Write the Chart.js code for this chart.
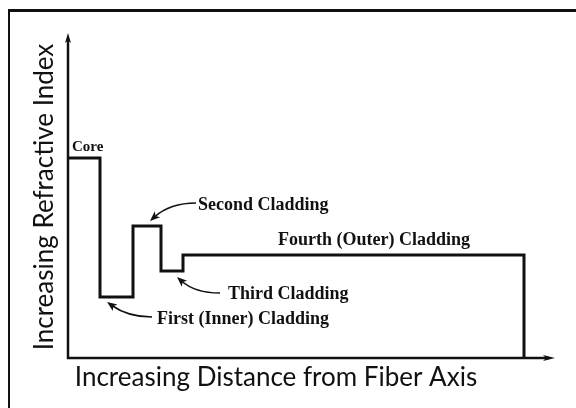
<!DOCTYPE html>
<html>
<head>
<meta charset="utf-8">
<script src="https://cdn.jsdelivr.net/npm/chart.js@4"></script>
<style>
  html, body { margin: 0; padding: 0; background: #fff; }
  canvas { display: block; }
</style>
</head>
<body>
<canvas id="profile" width="576" height="408"></canvas>
<script>
// refractive index profile: each layer starts at edges[i] with height levels[i]
var edges = [0, 3.2, 6.5, 9.3, 11.5, 45.6];
var levels = [20, 6.1, 13.2, 8.7, 10.3, 0];

// layer names and where they sit (data units)
var names = ['Core', 'Second Cladding', 'Fourth (Outer) Cladding', 'Third Cladding', 'First (Inner) Cladding'];
var nameX = [0.4, 13.0, 21.0, 16.0, 8.9];
var nameY = [20.7, 14.8, 11.3, 5.9, 3.4];

// curved pointer arrows: tail -> tip, bent through ctrl
var arrowTail = [[12.8, 15.5], [15.2, 6.5], [8.4, 4.1]];
var arrowCtrl = [[10.2, 15.5], [12.7, 6.5], [6.0, 4.1]];
var arrowTip = [[8.2, 13.7], [10.9, 8.1], [3.9, 5.6]];

var xTitle = 'Increasing Distance from Fiber Axis';
var yTitle = 'Increasing Refractive Index';

var points = edges.map(function (x, i) { return { x: x, y: levels[i] }; });

function head(ctx, x, y, ang, len, w) {
    ctx.save();
    ctx.translate(x, y);
    ctx.rotate(ang);
    ctx.beginPath();
    ctx.moveTo(0, 0);
    ctx.lineTo(-len, -w / 2);
    ctx.lineTo(-len * 0.75, 0);
    ctx.lineTo(-len, w / 2);
    ctx.closePath();
    ctx.fill();
    ctx.restore();
}

var decor = {
    id: 'decor',
    beforeDraw: function (chart) {
        var ctx = chart.ctx;
        ctx.save();
        ctx.fillStyle = '#fff';
        ctx.fillRect(0, 0, chart.width, chart.height);
        // frame (top and left edges show)
        ctx.fillStyle = '#111';
        ctx.fillRect(8, 9, chart.width - 8, 3);
        ctx.fillRect(8, 9, 2, chart.height - 9);
        ctx.restore();
    },
    afterDatasetsDraw: function (chart) {
        var ctx = chart.ctx, a = chart.chartArea;
        var xs = chart.scales.x, ys = chart.scales.y;
        ctx.save();
        ctx.strokeStyle = '#111';
        ctx.fillStyle = '#111';
        // axes with arrows
        ctx.lineWidth = 2.5;
        ctx.beginPath();
        ctx.moveTo(a.left, a.top + 6);
        ctx.lineTo(a.left, a.bottom);
        ctx.lineTo(a.right - 6, a.bottom);
        ctx.stroke();
        head(ctx, a.left, a.top, -Math.PI / 2, 10, 6);
        head(ctx, a.right, a.bottom, 0, 12, 6);

        // pointer arrows
        ctx.lineWidth = 1.6;
        for (var i = 0; i < arrowTail.length; i++) {
            var t = arrowTail[i], c = arrowCtrl[i], p = arrowTip[i];
            var tx = xs.getPixelForValue(t[0]), ty = ys.getPixelForValue(t[1]);
            var cx = xs.getPixelForValue(c[0]), cy = ys.getPixelForValue(c[1]);
            var px = xs.getPixelForValue(p[0]), py = ys.getPixelForValue(p[1]);
            var ang = Math.atan2(py - cy, px - cx);
            ctx.beginPath();
            ctx.moveTo(tx, ty);
            ctx.quadraticCurveTo(cx, cy, px - 6 * Math.cos(ang), py - 6 * Math.sin(ang));
            ctx.stroke();
            head(ctx, px, py, ang, 10, 8);
        }

        // layer names
        ctx.textAlign = 'left';
        ctx.textBaseline = 'alphabetic';
        for (var j = 0; j < names.length; j++) {
            ctx.font = (j === 0 ? 'bold 15px' : 'bold 18px') + ' "Liberation Serif", serif';
            ctx.fillText(names[j], xs.getPixelForValue(nameX[j]), ys.getPixelForValue(nameY[j]));
        }

        // axis titles
        ctx.font = '26px Lato, "Open Sans", sans-serif';
        ctx.textAlign = 'center';
        ctx.fillText(xTitle, 276, 386);
        ctx.translate(53, 197);
        ctx.rotate(-Math.PI / 2);
        ctx.fillText(yTitle, 0, 0);
        ctx.restore();
    }
};

new Chart(document.getElementById('profile'), {
    type: 'line',
    data: {
        datasets: [{
            data: points,
            stepped: 'before',
            borderColor: '#111',
            borderWidth: 3,
            pointRadius: 0,
            fill: false
        }]
    },
    options: {
        responsive: false,
        animation: false,
        layout: { padding: { left: 68, right: 21, top: 33, bottom: 50 } },
        scales: {
            x: { type: 'linear', min: 0, max: 48.7, display: false },
            y: { min: 0, max: 32.5, display: false }
        },
        plugins: {
            legend: { display: false },
            tooltip: { enabled: false }
        }
    },
    plugins: [decor]
});
</script>
</body>
</html>
